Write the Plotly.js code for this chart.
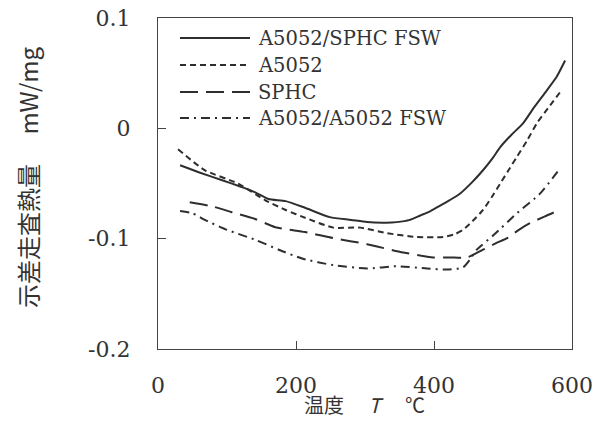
<!DOCTYPE html>
<html>
<head>
<meta charset="utf-8">
<script src="https://cdn.plot.ly/plotly-3.0.1.min.js"></script>
<style>html,body{margin:0;padding:0;background:#fff;}</style>
</head>
<body>
<div id="chart" style="width:603px;height:422px;"></div>
<script>
// Series names
const seriesNames = ["A5052/SPHC FSW", "A5052", "SPHC", "A5052/A5052 FSW"];

// A5052/SPHC FSW (solid)
const xFswMixed = [32, 60, 93, 120, 141, 160, 185, 213, 249, 280, 303, 330, 346, 365, 380, 395, 409, 423, 438, 455, 471, 485, 496, 512, 529, 545, 563, 578, 590];
const yFswMixed = [-0.0335, -0.040, -0.047, -0.053, -0.058, -0.064, -0.066, -0.072, -0.0805, -0.083, -0.085, -0.0855, -0.085, -0.083, -0.079, -0.075, -0.070, -0.065, -0.059, -0.049, -0.038, -0.027, -0.017, -0.006, 0.0045, 0.019, 0.034, 0.047, 0.0615];

// A5052 (short dash)
const xA5052 = [29, 68, 116, 155, 185, 213, 254, 293, 332, 375, 413, 430, 442, 456, 471, 484, 496, 508, 520, 535, 549, 565, 583];
const yA5052 = [-0.019, -0.038, -0.050, -0.065, -0.074, -0.081, -0.090, -0.090, -0.095, -0.0985, -0.0985, -0.096, -0.092, -0.084, -0.074, -0.062, -0.050, -0.038, -0.026, -0.011, 0.0045, 0.018, 0.033];

// SPHC (long dash)
const xSPHC = [46, 80, 107, 140, 170, 213, 254, 303, 351, 399, 423, 448, 471, 490, 506, 523, 539, 560, 582];
const ySPHC = [-0.067, -0.071, -0.076, -0.082, -0.0896, -0.094, -0.0995, -0.105, -0.112, -0.117, -0.117, -0.117, -0.110, -0.104, -0.0995, -0.092, -0.086, -0.080, -0.074];

// A5052/A5052 FSW (dash-dot)
const xFswSame = [32, 50, 68, 100, 141, 175, 209, 254, 303, 346, 390, 419, 442, 452, 462, 486, 520, 554, 583];
const yFswSame = [-0.075, -0.077, -0.083, -0.092, -0.101, -0.110, -0.118, -0.124, -0.127, -0.125, -0.127, -0.128, -0.126, -0.119, -0.110, -0.097, -0.077, -0.059, -0.036];

// Axis ticks
const xTickVals = [0, 200, 400, 600];
const xTickText = ["0", "200", "400", "600"];
const yTickVals = [0.1, 0, -0.1, -0.2];
const yTickText = ["0.1", "0", "-0.1", "-0.2"];

const dashes = ["solid", "6px,4px", "18px,8px", "9px,5px,2px,5px"];
const lineColor = "#2e2e2e";
const W = 603, H = 422;
const M = {l: 158, r: 31, t: 18, b: 73};
const pw = W - M.l - M.r, ph = H - M.t - M.b;
const px2x = p => (p - M.l) / pw;
const px2y = p => (H - M.b - p) / ph;

const xs = [xFswMixed, xA5052, xSPHC, xFswSame];
const ys = [yFswMixed, yA5052, ySPHC, yFswSame];

const traces = xs.map((x, i) => ({
  x: x, y: ys[i], type: "scatter", mode: "lines", name: seriesNames[i],
  line: {color: lineColor, width: 2, dash: dashes[i], shape: "spline", smoothing: 0.6},
  showlegend: false, hoverinfo: "skip"
}));

const legendRows = [38, 65, 92, 118];
const shapes = [], annotations = [];
seriesNames.forEach((n, i) => {
  shapes.push({type: "line", xref: "paper", yref: "paper",
    x0: px2x(180), x1: px2x(250), y0: px2y(legendRows[i]), y1: px2y(legendRows[i]),
    line: {color: lineColor, width: 2, dash: dashes[i]}});
  annotations.push({xref: "paper", yref: "paper", x: px2x(256), y: px2y(legendRows[i]),
    xanchor: "left", yanchor: "middle", showarrow: false, text: n,
    font: {family: "DejaVu Serif", size: 19.5, color: "#333"}});
});

// axis titles
annotations.push({xref: "paper", yref: "paper", x: px2x(364), y: px2y(421),
  xanchor: "center", yanchor: "bottom", showarrow: false,
  text: "温度　 <i>T</i> 　℃",
  font: {family: "Noto Sans CJK JP", size: 20, color: "#333"}});
annotations.push({xref: "paper", yref: "paper", x: px2x(27), y: px2y(177),
  xanchor: "center", yanchor: "middle", showarrow: false, textangle: -90,
  text: "示差走査熱量　 mW/mg",
  font: {family: "Noto Sans CJK JP", size: 24, color: "#333"}});

const axisCommon = {
  showgrid: false, zeroline: false, showline: true, mirror: true,
  linecolor: "#444", linewidth: 1.2, ticks: "inside", ticklen: 8, tickcolor: "#444",
  tickfont: {family: "DejaVu Serif", size: 22, color: "#333"}, fixedrange: true
};

const layout = {
  width: W, height: H, margin: M,
  paper_bgcolor: "#fff", plot_bgcolor: "#fff",
  xaxis: Object.assign({}, axisCommon, {range: [0, 600], tickmode: "array", tickvals: xTickVals, ticktext: xTickText, ticklabelstandoff: 16}),
  yaxis: Object.assign({}, axisCommon, {range: [-0.2, 0.1], tickmode: "array", tickvals: yTickVals, ticktext: yTickText, ticklabelstandoff: 22}),
  shapes: shapes, annotations: annotations, showlegend: false
};

Plotly.newPlot("chart", traces, layout, {displayModeBar: false, staticPlot: true});
</script>
</body>
</html>
